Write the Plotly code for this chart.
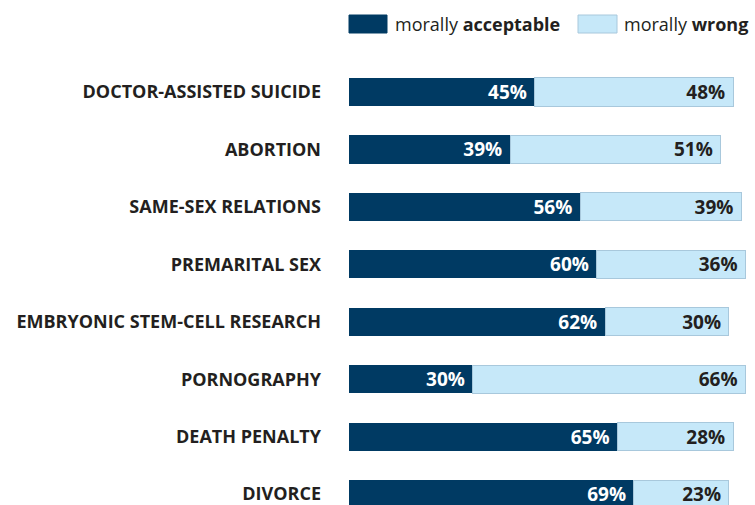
import plotly.graph_objects as go

categories = ["DOCTOR-ASSISTED SUICIDE", "ABORTION", "SAME-SEX RELATIONS", "PREMARITAL SEX",
              "EMBRYONIC STEM-CELL RESEARCH", "PORNOGRAPHY", "DEATH PENALTY", "DIVORCE"]
acceptable = [45, 39, 56, 60, 62, 30, 65, 69]
wrong = [48, 51, 39, 36, 30, 66, 28, 23]
series_names = ["morally <b>acceptable</b>", "morally <b>wrong</b>"]

DARK = "#003a63"
LIGHT = "#c6e8f9"
EDGE = "#a8c8dc"
TXT = "#231f20"
FONT = "Open Sans"

fig = go.Figure()
fig.add_trace(go.Bar(
    y=categories, x=acceptable, orientation="h", name=series_names[0],
    marker=dict(color=DARK, line=dict(width=0)),
    text=[f"<b>{v}%</b>\u00a0" for v in acceptable], textposition="inside",
    insidetextanchor="end", textangle=0, constraintext="none",
    textfont=dict(color="white", size=19, family=FONT), width=0.49,
    showlegend=False,
))
fig.add_trace(go.Bar(
    y=categories, x=wrong, orientation="h", name=series_names[1],
    marker=dict(color=LIGHT, line=dict(width=1, color=EDGE)),
    text=[f"<b>{v}%</b>\u00a0" for v in wrong], textposition="inside",
    insidetextanchor="end", textangle=0, constraintext="none",
    textfont=dict(color=TXT, size=19, family=FONT), width=0.49,
    showlegend=False,
))

# custom legend (large swatches like the reference)
def px_x(px):
    return (px - 349) / 406

def px_y(py):
    return (505 - py) / 445

legend_items = [(349, 387, DARK, DARK, 393), (578, 617, LIGHT, EDGE, 622)]
for (x0, x1, fill, edge, tx), name in zip(legend_items, series_names):
    fig.add_shape(type="rect", xref="paper", yref="paper",
                  x0=px_x(x0), x1=px_x(x1), y0=px_y(33), y1=px_y(15),
                  fillcolor=fill, line=dict(color=edge, width=1))
    fig.add_annotation(xref="paper", yref="paper", x=px_x(tx), y=px_y(24),
                       xanchor="left", yanchor="middle", showarrow=False, text=name,
                       font=dict(family=FONT, size=18, color=TXT))

fig.update_layout(
    barmode="stack", width=755, height=505,
    margin=dict(l=349, r=0, t=60, b=0, autoexpand=False),
    paper_bgcolor="white", plot_bgcolor="white",
    showlegend=False,
    font=dict(family=FONT, color=TXT),
)
fig.update_xaxes(range=[0, 98.3], visible=False, fixedrange=True)
fig.update_yaxes(type="category", range=[7.19, -0.557], showgrid=False, zeroline=False,
                 showline=False, ticks="", ticklabelstandoff=27, automargin=False,
                 tickfont=dict(family=FONT, size=18, color=TXT, weight="bold"))

fig.write_html("out.html", config={"displayModeBar": False},
               post_script="document.body.style.margin='0';document.body.style.overflow='hidden';")
